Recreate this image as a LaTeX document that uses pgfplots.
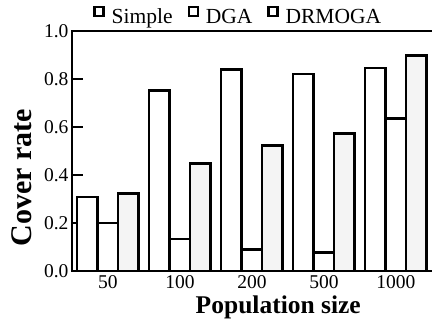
\documentclass[border=0pt]{standalone}
\usepackage{fontspec}
\setmainfont{Liberation Serif}
\usepackage{pgfplots}
\pgfplotsset{compat=1.18}
\pgfplotsset{legsq/.style={legend image code/.code={\draw[line width=2.4pt, draw=black, fill=white] (1.2pt,1pt) rectangle (10.2pt,10pt); \path (16pt,0pt);}}}
\begin{document}
\begin{tikzpicture}
\useasboundingbox (-72pt,-52pt) rectangle (360pt,271pt);
\begin{axis}[
  at={(0pt,0pt)}, anchor=south west,
  scale only axis, width=360pt, height=240pt,
  ybar=0pt, bar width=20.5pt,
  xmin=-0.5, xmax=4.5, ymin=0, ymax=1,
  clip=false,
  axis x line*=bottom, axis y line*=left,
  axis line style={-, line width=2.5pt, line cap=rect},
  xtick={0,1,2,3,4}, xticklabels={50,100,200,500,1000},
  xtick style={draw=none},
  ytick={0,0.2,0.4,0.6,0.8,1.0}, yticklabels={0.0,0.2,0.4,0.6,0.8,1.0},
  ytick style={line width=2.5pt, black},
  major tick length=11pt, tick align=inside,
  ticklabel style={font=\fontsize{19.5}{19.5}\selectfont},
  xticklabel style={yshift=-1pt},
  every axis x label/.style={at={(axis description cs:0.573,-0.15)}, anchor=center},
  every axis y label/.style={at={(axis description cs:-0.139,0.39)}, anchor=center, rotate=90},
  xlabel={\fontsize{25.5}{25.5}\selectfont\bfseries Population size},
  ylabel={\fontsize{30}{30}\selectfont\bfseries Cover rate},
  legend style={at={(axis description cs:0.462,1.06)}, anchor=center, draw=none, fill=none,
    font=\fontsize{21.5}{21.5}\selectfont, /tikz/every even column/.append style={column sep=13pt}},
  legend columns=3,
]
\addplot[draw=black, line width=2.5pt, fill=white, forget plot, bar shift=-20.5pt] coordinates {(0,0.308) (1,0.753) (2,0.84) (3,0.82) (4,0.845)};
\addplot[draw=black, line width=2.5pt, fill=white, forget plot, bar shift=0pt] coordinates {(0,0.20) (1,0.133) (2,0.09) (3,0.077) (4,0.635)};
\addplot[draw=black, line width=2.5pt, fill=gray!9, forget plot, bar shift=20.5pt] coordinates {(0,0.322) (1,0.448) (2,0.523) (3,0.572) (4,0.897)};
\addlegendimage{legsq, draw=black, fill=white}
\addlegendimage{legsq, draw=black, fill=white}
\addlegendimage{legsq, draw=black, fill=white}
\legend{Simple, DGA, DRMOGA}
\draw[line width=2.5pt, line cap=rect] (rel axis cs:0,1) -- (rel axis cs:1,1);
\end{axis}
\end{tikzpicture}
\end{document}
